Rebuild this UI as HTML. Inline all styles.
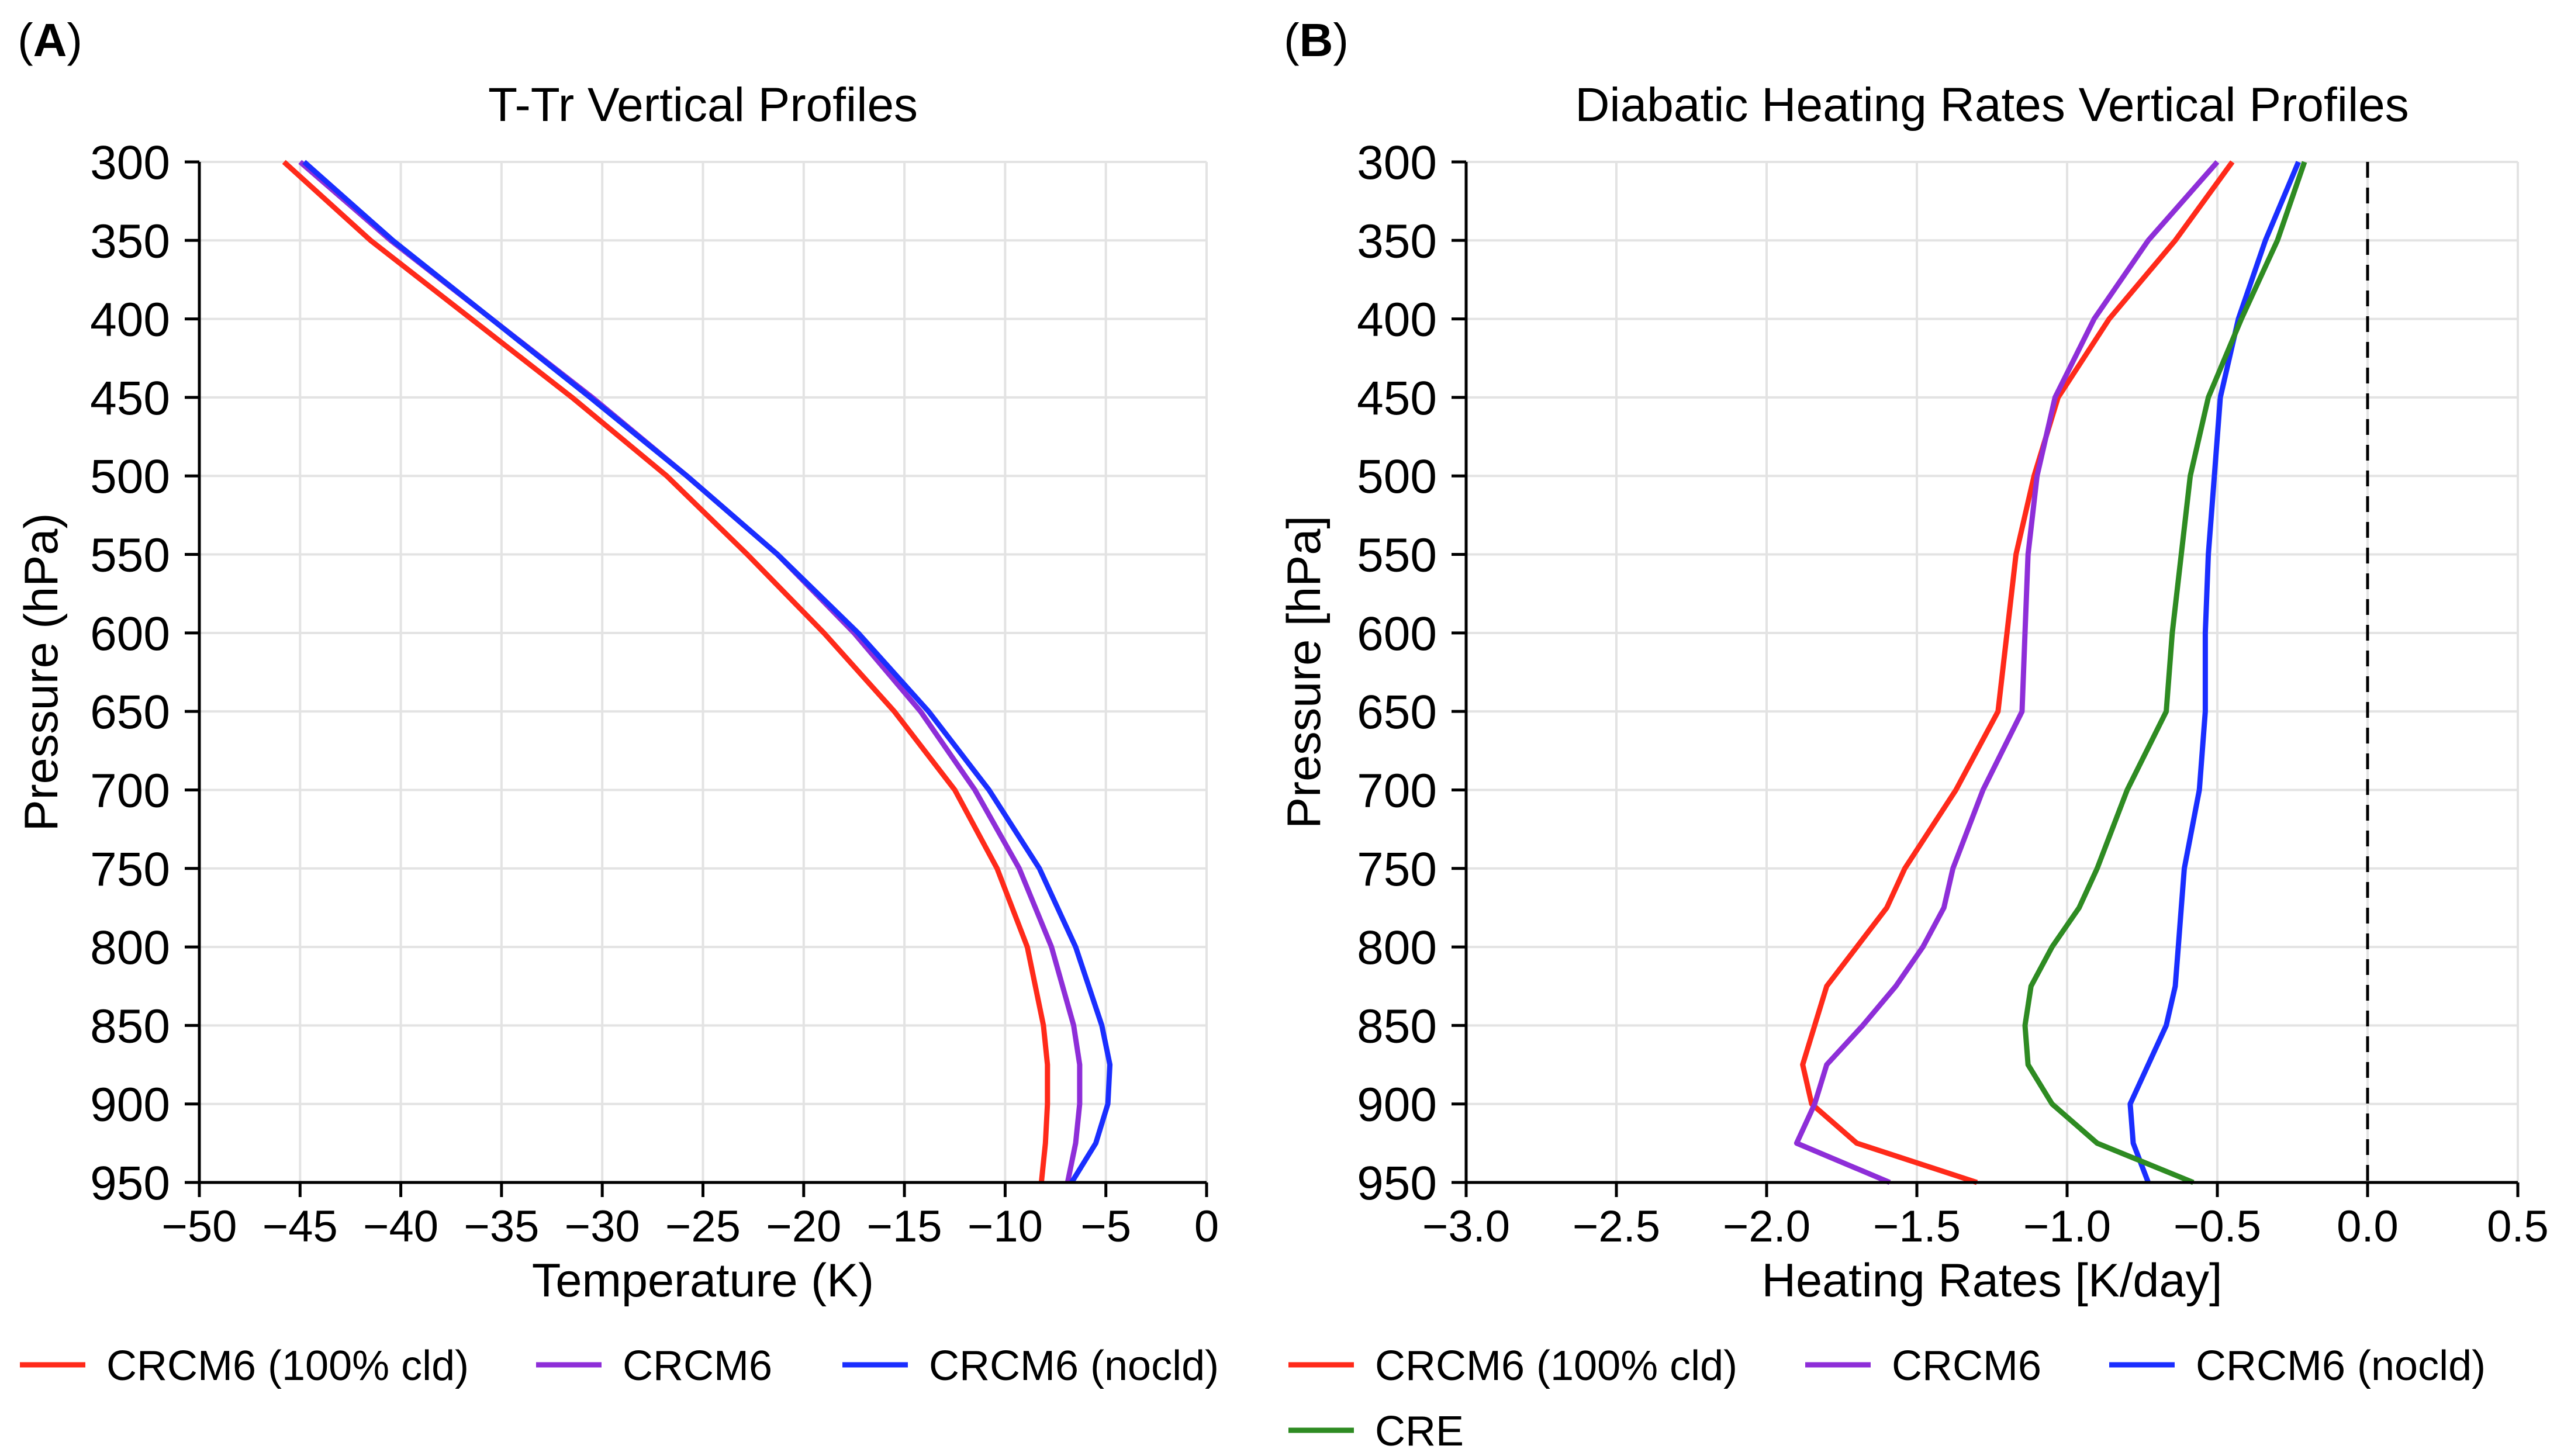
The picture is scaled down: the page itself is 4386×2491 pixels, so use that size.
<!DOCTYPE html>
<html><head><meta charset="utf-8">
<style>
html,body{margin:0;padding:0;background:#fff;}
svg{display:block;font-family:"Liberation Sans",Arial,sans-serif;}
</style></head>
<body>
<svg id="fig" width="4386" height="2491" viewBox="0 0 4386 2491" xmlns="http://www.w3.org/2000/svg"></svg>
<script>
// ---- Data ----
const pressureA = [300,350,400,450,500,550,600,650,700,750,800,850,875,900,925,950];
const tempRed = [-45.8,-41.5,-36.5,-31.5,-26.8,-22.8,-19.0,-15.5,-12.5,-10.4,-8.9,-8.1,-7.9,-7.9,-8.0,-8.2];
const tempPurple = [-45.0,-40.5,-35.5,-30.5,-25.8,-21.3,-17.5,-14.2,-11.5,-9.3,-7.7,-6.6,-6.3,-6.3,-6.5,-6.9];
const tempBlue = [-44.8,-40.4,-35.5,-30.6,-25.8,-21.3,-17.3,-13.8,-10.8,-8.3,-6.5,-5.2,-4.8,-4.9,-5.5,-6.7];

const pressureB = [300,350,400,450,500,550,600,650,700,750,775,800,825,850,875,900,925,950];
const heatRed = [-0.45,-0.64,-0.86,-1.03,-1.11,-1.17,-1.20,-1.23,-1.37,-1.54,-1.60,-1.70,-1.80,-1.84,-1.88,-1.85,-1.70,-1.30];
const heatPurple = [-0.50,-0.73,-0.91,-1.04,-1.10,-1.13,-1.14,-1.15,-1.28,-1.38,-1.41,-1.48,-1.57,-1.68,-1.80,-1.84,-1.90,-1.59];
const heatBlue = [-0.23,-0.34,-0.43,-0.49,-0.51,-0.53,-0.54,-0.54,-0.56,-0.61,-0.62,-0.63,-0.64,-0.67,-0.73,-0.79,-0.78,-0.73];
const heatCRE = [-0.21,-0.30,-0.42,-0.53,-0.59,-0.62,-0.65,-0.67,-0.80,-0.90,-0.96,-1.05,-1.12,-1.14,-1.13,-1.05,-0.90,-0.58];

const yTicks = [300,350,400,450,500,550,600,650,700,750,800,850,900,950];
const xTicksA = [-50,-45,-40,-35,-30,-25,-20,-15,-10,-5,0];
const xTickLabelsA = ["\u221250","\u221245","\u221240","\u221235","\u221230","\u221225","\u221220","\u221215","\u221210","\u22125","0"];
const xTicksB = [-3,-2.5,-2,-1.5,-1,-0.5,0,0.5];
const xTickLabelsB = ["\u22123.0","\u22122.5","\u22122.0","\u22121.5","\u22121.0","\u22120.5","0.0","0.5"];

const RED="#ff2a1a", PURPLE="#8e2ed8", BLUE="#1a2eff", GREEN="#2e8b22";
const NS="http://www.w3.org/2000/svg";
const svg=document.getElementById('fig');
function el(tag,attrs,parent){const e=document.createElementNS(NS,tag);for(const k in attrs)e.setAttribute(k,attrs[k]);(parent||svg).appendChild(e);return e;}
function txt(s,attrs,parent){const e=el('text',attrs,parent);e.textContent=s;return e;}

function panel(cfg){
  const g=el('g',{});
  
  
  const X=v=>cfg.x0+(v-cfg.xmin)/(cfg.xmax-cfg.xmin)*(cfg.x1-cfg.x0);
  const Y=p=>cfg.y0+(p-300)/(950-300)*(cfg.y1-cfg.y0);
  cfg.xt.forEach((v,i)=>{const l=el('line',{x1:X(v),x2:X(v),y1:cfg.y0,y2:cfg.y1,stroke:'#e3e3e3','stroke-width':4},g);
    });
  yTicks.forEach(p=>{const l=el('line',{x1:cfg.x0,x2:cfg.x1,y1:Y(p),y2:Y(p),stroke:'#e3e3e3','stroke-width':4},g);
    });
  if(cfg.zeroLine){const l=el('line',{x1:X(0),x2:X(0),y1:cfg.y0,y2:cfg.y1,stroke:'#000','stroke-width':5,'stroke-dasharray':'27 17'},g);
    }
  cfg.series.forEach(s=>{
    const d=s.vals.map((v,i)=>(i?'L':'M')+X(v).toFixed(1)+','+Y(s.p[i]).toFixed(1)).join(' ');
    const path=el('path',{d:d,fill:'none',stroke:s.color,'stroke-width':9,'stroke-linejoin':'round'},g);
    
    
  });
  const ax=el('path',{d:`M${cfg.x0},${cfg.y0} L${cfg.x0},${cfg.y1} L${cfg.x1},${cfg.y1}`,fill:'none',stroke:'#000','stroke-width':5},g);
  
  yTicks.forEach(p=>{
    el('line',{x1:cfg.x0-25,x2:cfg.x0,y1:Y(p),y2:Y(p),stroke:'#000','stroke-width':5},g);
    const t=txt(String(p),{x:cfg.x0-50,y:Y(p)+29,'text-anchor':'end','font-size':82},g);
    
  });
  cfg.xt.forEach((v,i)=>{
    el('line',{x1:X(v),x2:X(v),y1:cfg.y1,y2:cfg.y1+25,stroke:'#000','stroke-width':5},g);
    const t=txt(cfg.xl[i],{x:X(v),y:cfg.y1+101,'text-anchor':'middle','font-size':76},g);
    
  });
  const xt=txt(cfg.xtitle,{x:(cfg.x0+cfg.x1)/2,y:2218,'text-anchor':'middle','font-size':81},g);
  
  const yt=txt(cfg.ytitle,{x:0,y:0,'text-anchor':'middle','font-size':81,transform:`translate(${cfg.ytx},1150) rotate(-90)`},g);
  
  const tt=txt(cfg.title,{x:(cfg.x0+cfg.x1)/2,y:207,'text-anchor':'middle','font-size':82},g);
  
  const pl=txt('',{x:cfg.plx,y:96,'font-size':80},g);
  
  const t1=el('tspan',{},pl);t1.textContent='(';
  const t2=el('tspan',{'font-weight':'bold'},pl);t2.textContent=cfg.letter;
  const t3=el('tspan',{},pl);t3.textContent=')';
  cfg.legend.forEach(L=>{
    const lg=el('g',{},g);
    
    
    el('line',{x1:L.lx,x2:L.lx+112,y1:L.y,y2:L.y,stroke:L.color,'stroke-width':9},lg);
    txt(L.label,{x:L.lx+148,y:L.y+26,'font-size':72},lg);
  });
}

panel({name:'panel-a-temperature',x0:341,x1:2064,y0:277,y1:2023,xmin:-50,xmax:0,
  xt:xTicksA,xl:xTickLabelsA,xtitle:'Temperature (K)',ytitle:'Pressure (hPa)',ytx:98,
  title:'T-Tr Vertical Profiles',plx:30,letter:'A',
  series:[{id:'line-crcm6-100cld',vals:tempRed,p:pressureA,color:RED},
          {id:'line-crcm6',vals:tempPurple,p:pressureA,color:PURPLE},
          {id:'line-crcm6-nocld',vals:tempBlue,p:pressureA,color:BLUE}],
  legend:[{lx:34,y:2335,color:RED,label:'CRCM6 (100% cld)'},
          {lx:917,y:2335,color:PURPLE,label:'CRCM6'},
          {lx:1441,y:2335,color:BLUE,label:'CRCM6 (nocld)'}]});

panel({name:'panel-b-heating-rates',x0:2508,x1:4307,y0:277,y1:2023,xmin:-3,xmax:0.5,zeroLine:true,
  xt:xTicksB,xl:xTickLabelsB,xtitle:'Heating Rates [K/day]',ytitle:'Pressure [hPa]',ytx:2258,
  title:'Diabatic Heating Rates Vertical Profiles',plx:2196,letter:'B',
  series:[{id:'line-crcm6-100cld',vals:heatRed,p:pressureB,color:RED},
          {id:'line-crcm6',vals:heatPurple,p:pressureB,color:PURPLE},
          {id:'line-crcm6-nocld',vals:heatBlue,p:pressureB,color:BLUE},
          {id:'line-cre',vals:heatCRE,p:pressureB,color:GREEN}],
  legend:[{lx:2204,y:2335,color:RED,label:'CRCM6 (100% cld)'},
          {lx:3088,y:2335,color:PURPLE,label:'CRCM6'},
          {lx:3608,y:2335,color:BLUE,label:'CRCM6 (nocld)'},
          {lx:2204,y:2447,color:GREEN,label:'CRE'}]});
</script>
</body></html>
